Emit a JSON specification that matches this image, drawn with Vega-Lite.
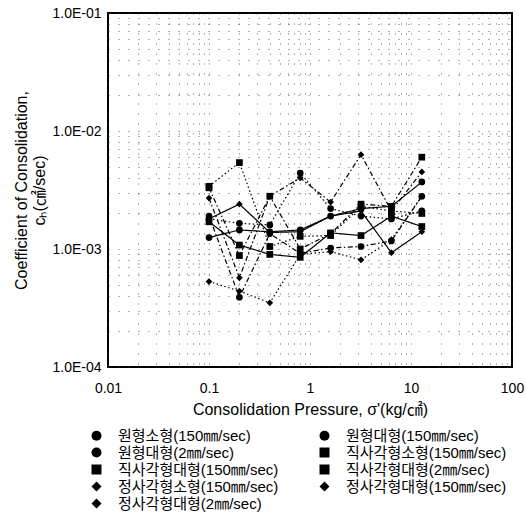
{
  "$schema": "https://vega.github.io/schema/vega-lite/v6.json",
  "width": 404,
  "height": 354,
  "padding": {"left": 13, "top": 6, "right": 5, "bottom": 5},
  "config": {
    "font": "Liberation Sans, Noto Sans CJK KR",
    "view": {"stroke": "black", "strokeWidth": 2},
    "axis": {
      "domain": false,
      "ticks": false,
      "grid": true,
      "gridColor": "#333",
      "gridDash": [1, 9],
      "gridWidth": 1,
      "gridOpacity": 0.75,
      "labelColor": "black",
      "titleColor": "black",
      "labelFontSize": 14,
      "titleFontSize": 16,
      "titleFontWeight": "normal",
      "labelOverlap": false,
      "labelFlush": false
    },
    "legend": {
      "title": null,
      "orient": "none",
      "legendX": -19,
      "legendY": 415,
      "direction": "horizontal",
      "columns": 2,
      "symbolSize": 100,
      "labelFontSize": 15,
      "labelColor": "black",
      "labelLimit": 300,
      "labelOffset": 14,
      "columnPadding": 37,
      "rowPadding": 0
    }
  },
  "data": {
    "values": [
      {"s": "원형소형(150㎜/sec)", "x": 0.1, "y": 0.00125},
      {"s": "원형소형(150㎜/sec)", "x": 0.2, "y": 0.00145},
      {"s": "원형소형(150㎜/sec)", "x": 0.4, "y": 0.0014},
      {"s": "원형소형(150㎜/sec)", "x": 0.8, "y": 0.00145},
      {"s": "원형소형(150㎜/sec)", "x": 1.6, "y": 0.0019},
      {"s": "원형소형(150㎜/sec)", "x": 3.2, "y": 0.0022},
      {"s": "원형소형(150㎜/sec)", "x": 6.4, "y": 0.0023},
      {"s": "원형소형(150㎜/sec)", "x": 12.8, "y": 0.0037},
      {"s": "원형대형(150㎜/sec)", "x": 0.1, "y": 0.0018},
      {"s": "원형대형(150㎜/sec)", "x": 0.2, "y": 0.00165},
      {"s": "원형대형(150㎜/sec)", "x": 0.4, "y": 0.0016},
      {"s": "원형대형(150㎜/sec)", "x": 0.8, "y": 0.0044},
      {"s": "원형대형(150㎜/sec)", "x": 1.6, "y": 0.0022},
      {"s": "원형대형(150㎜/sec)", "x": 3.2, "y": 0.0019},
      {"s": "원형대형(150㎜/sec)", "x": 6.4, "y": 0.0018},
      {"s": "원형대형(150㎜/sec)", "x": 12.8, "y": 0.0021},
      {"s": "원형대형(2㎜/sec)", "x": 0.1, "y": 0.0019},
      {"s": "원형대형(2㎜/sec)", "x": 0.2, "y": 0.00039},
      {"s": "원형대형(2㎜/sec)", "x": 0.4, "y": 0.00135},
      {"s": "원형대형(2㎜/sec)", "x": 0.8, "y": 0.00092},
      {"s": "원형대형(2㎜/sec)", "x": 1.6, "y": 0.00102},
      {"s": "원형대형(2㎜/sec)", "x": 3.2, "y": 0.00105},
      {"s": "원형대형(2㎜/sec)", "x": 6.4, "y": 0.00117},
      {"s": "원형대형(2㎜/sec)", "x": 12.8, "y": 0.0028},
      {"s": "직사각형소형(150㎜/sec)", "x": 0.1, "y": 0.0017},
      {"s": "직사각형소형(150㎜/sec)", "x": 0.2, "y": 0.00108},
      {"s": "직사각형소형(150㎜/sec)", "x": 0.4, "y": 0.0009},
      {"s": "직사각형소형(150㎜/sec)", "x": 0.8, "y": 0.00085},
      {"s": "직사각형소형(150㎜/sec)", "x": 1.6, "y": 0.00137},
      {"s": "직사각형소형(150㎜/sec)", "x": 3.2, "y": 0.0013},
      {"s": "직사각형소형(150㎜/sec)", "x": 6.4, "y": 0.0019},
      {"s": "직사각형소형(150㎜/sec)", "x": 12.8, "y": 0.00155},
      {"s": "직사각형대형(150㎜/sec)", "x": 0.1, "y": 0.0034},
      {"s": "직사각형대형(150㎜/sec)", "x": 0.2, "y": 0.0054},
      {"s": "직사각형대형(150㎜/sec)", "x": 0.4, "y": 0.00105},
      {"s": "직사각형대형(150㎜/sec)", "x": 0.8, "y": 0.00128},
      {"s": "직사각형대형(150㎜/sec)", "x": 1.6, "y": 0.0013},
      {"s": "직사각형대형(150㎜/sec)", "x": 3.2, "y": 0.0023},
      {"s": "직사각형대형(150㎜/sec)", "x": 6.4, "y": 0.0021},
      {"s": "직사각형대형(150㎜/sec)", "x": 12.8, "y": 0.002},
      {"s": "직사각형대형(2㎜/sec)", "x": 0.1, "y": 0.0033},
      {"s": "직사각형대형(2㎜/sec)", "x": 0.2, "y": 0.00088},
      {"s": "직사각형대형(2㎜/sec)", "x": 0.4, "y": 0.0028},
      {"s": "직사각형대형(2㎜/sec)", "x": 0.8, "y": 0.001},
      {"s": "직사각형대형(2㎜/sec)", "x": 1.6, "y": 0.00135},
      {"s": "직사각형대형(2㎜/sec)", "x": 3.2, "y": 0.0024},
      {"s": "직사각형대형(2㎜/sec)", "x": 6.4, "y": 0.0023},
      {"s": "직사각형대형(2㎜/sec)", "x": 12.8, "y": 0.006},
      {"s": "정사각형소형(150㎜/sec)", "x": 0.1, "y": 0.0018},
      {"s": "정사각형소형(150㎜/sec)", "x": 0.2, "y": 0.0024},
      {"s": "정사각형소형(150㎜/sec)", "x": 0.4, "y": 0.00138},
      {"s": "정사각형소형(150㎜/sec)", "x": 0.8, "y": 0.0014},
      {"s": "정사각형소형(150㎜/sec)", "x": 1.6, "y": 0.0019},
      {"s": "정사각형소형(150㎜/sec)", "x": 3.2, "y": 0.0021},
      {"s": "정사각형소형(150㎜/sec)", "x": 6.4, "y": 0.00093},
      {"s": "정사각형소형(150㎜/sec)", "x": 12.8, "y": 0.0014},
      {"s": "정사각형대형(150㎜/sec)", "x": 0.1, "y": 0.00053},
      {"s": "정사각형대형(150㎜/sec)", "x": 0.2, "y": 0.00044},
      {"s": "정사각형대형(150㎜/sec)", "x": 0.4, "y": 0.00035},
      {"s": "정사각형대형(150㎜/sec)", "x": 0.8, "y": 0.0009},
      {"s": "정사각형대형(150㎜/sec)", "x": 1.6, "y": 0.00095},
      {"s": "정사각형대형(150㎜/sec)", "x": 3.2, "y": 0.00081},
      {"s": "정사각형대형(150㎜/sec)", "x": 6.4, "y": 0.0012},
      {"s": "정사각형대형(150㎜/sec)", "x": 12.8, "y": 0.0028},
      {"s": "정사각형대형(2㎜/sec)", "x": 0.1, "y": 0.0027},
      {"s": "정사각형대형(2㎜/sec)", "x": 0.2, "y": 0.00057},
      {"s": "정사각형대형(2㎜/sec)", "x": 0.4, "y": 0.0028},
      {"s": "정사각형대형(2㎜/sec)", "x": 0.8, "y": 0.004},
      {"s": "정사각형대형(2㎜/sec)", "x": 1.6, "y": 0.0025},
      {"s": "정사각형대형(2㎜/sec)", "x": 3.2, "y": 0.0063},
      {"s": "정사각형대형(2㎜/sec)", "x": 6.4, "y": 0.0021},
      {"s": "정사각형대형(2㎜/sec)", "x": 12.8, "y": 0.0045}
    ]
  },
  "encoding": {
    "x": {
      "field": "x",
      "type": "quantitative",
      "scale": {"type": "log", "domain": [0.01, 100]},
      "axis": {
        "title": "Consolidation Pressure, σ'(kg/㎠)",
        "values": [0.01, 0.02, 0.03, 0.04, 0.05, 0.06, 0.07, 0.08, 0.09, 0.1, 0.2, 0.3, 0.4, 0.5, 0.6, 0.7, 0.8, 0.9, 1, 2, 3, 4, 5, 6, 7, 8, 9, 10, 20, 30, 40, 50, 60, 70, 80, 90, 100],
        "labelExpr": "abs(log(datum.value)/LN10 - round(log(datum.value)/LN10)) < 0.001 ? format(datum.value, '~g') : ''",
        "labelPadding": 14,
        "titlePadding": 6
      }
    },
    "y": {
      "field": "y",
      "type": "quantitative",
      "scale": {"type": "log", "domain": [0.0001, 0.1]},
      "axis": {
        "title": ["Coefficient of Consolidation,", "cₕ(㎠/sec)"],
        "values": [0.0001, 0.0002, 0.0003, 0.0004, 0.0005, 0.0006, 0.0007, 0.0008, 0.0009, 0.001, 0.002, 0.003, 0.004, 0.005, 0.006, 0.007, 0.008, 0.009, 0.01, 0.02, 0.03, 0.04, 0.05, 0.06, 0.07, 0.08, 0.09, 0.1],
        "labelExpr": "abs(log(datum.value)/LN10 - round(log(datum.value)/LN10)) < 0.001 ? '1.0E-0' + format(-round(log(datum.value)/LN10), 'd') : ''",
        "labelPadding": 7,
        "titlePadding": 4
      }
    }
  },
  "layer": [
    {
      "mark": {"type": "line", "color": "black", "strokeWidth": 1.2},
      "encoding": {
        "strokeDash": {
          "field": "s",
          "type": "nominal",
          "scale": {
            "domain": ["원형소형(150㎜/sec)", "직사각형소형(150㎜/sec)", "정사각형소형(150㎜/sec)", "원형대형(150㎜/sec)", "직사각형대형(150㎜/sec)", "정사각형대형(150㎜/sec)", "원형대형(2㎜/sec)", "직사각형대형(2㎜/sec)", "정사각형대형(2㎜/sec)"],
            "range": [[1, 0], [1, 0], [1, 0], [1.5, 2.5], [1.5, 2.5], [1.5, 2.5], [5, 2.5, 1.5, 2.5], [5, 2.5, 1.5, 2.5], [5, 2.5, 1.5, 2.5]]
          },
          "legend": null
        }
      }
    },
    {
      "mark": {"type": "point", "filled": true, "color": "black", "opacity": 1, "size": 45},
      "encoding": {
        "shape": {
          "field": "s",
          "type": "nominal",
          "scale": {
            "domain": ["원형소형(150㎜/sec)", "원형대형(150㎜/sec)", "원형대형(2㎜/sec)", "직사각형소형(150㎜/sec)", "직사각형대형(150㎜/sec)", "직사각형대형(2㎜/sec)", "정사각형소형(150㎜/sec)", "정사각형대형(150㎜/sec)", "정사각형대형(2㎜/sec)"],
            "range": ["circle", "circle", "circle", "square", "square", "square", "diamond", "diamond", "diamond"]
          },
          "legend": {
            "encode": {
              "symbols": {
                "fill": {"value": "black"},
                "stroke": {"value": "black"},
                "strokeWidth": {"value": 1.2},
                "opacity": {"value": 1},
                "fillOpacity": {"value": 1},
                "strokeOpacity": {"value": 1}
              }
            }
          }
        }
      }
    }
  ]
}
